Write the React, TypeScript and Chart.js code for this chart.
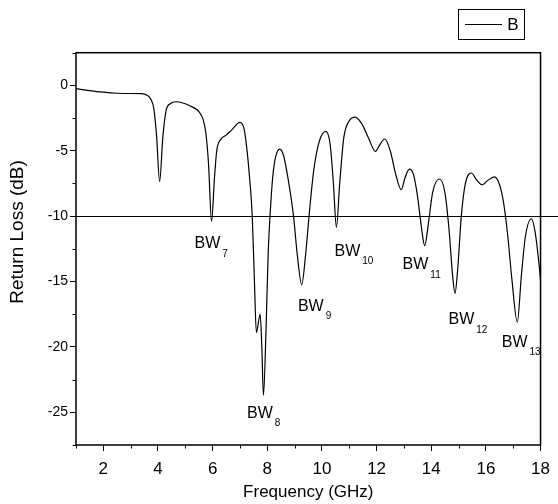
import React, { useEffect, useRef } from 'react';
import { Chart, registerables } from 'chart.js';
Chart.register(...registerables);

const freqGHz = [
  1.0, 1.5, 2.0, 2.5, 3.0, 3.4, 3.6, 3.75, 3.85, 3.95, 4.06, 4.18, 4.3, 4.45, 4.68,
  5.0, 5.3, 5.5, 5.65, 5.75, 5.85, 5.96, 6.07, 6.15, 6.29, 6.5, 6.7, 7.0, 7.15, 7.25,
  7.35, 7.45, 7.53, 7.6, 7.74, 7.8, 7.86, 7.95, 8.03, 8.1, 8.2, 8.3, 8.46, 8.6, 8.75,
  8.96, 9.1, 9.26, 9.4, 9.55, 9.7, 9.9, 10.14, 10.3, 10.42, 10.53, 10.65, 10.8, 11.0,
  11.22, 11.45, 11.7, 11.96, 12.1, 12.3, 12.5, 12.7, 12.9, 13.05, 13.2, 13.35, 13.5,
  13.65, 13.76, 13.9, 14.05, 14.3, 14.5, 14.65, 14.78, 14.87, 14.97, 15.1, 15.25, 15.47,
  15.65, 15.87, 16.05, 16.31, 16.5, 16.65, 16.8, 16.95, 17.15, 17.3, 17.45, 17.67, 17.8,
  17.9, 18.0,
];
const returnLossDb = [
  -0.25, -0.4, -0.52, -0.6, -0.62, -0.63, -0.75, -1.1, -1.8, -3.9, -7.35, -3.9, -1.9, -1.4, -1.25,
  -1.4, -1.7, -2.0, -2.6, -3.6, -6.0, -10.4, -7.0, -5.0, -4.15, -3.8, -3.4, -2.83, -3.3, -4.8,
  -7.0, -10.0, -15.0, -18.9, -17.5, -20.0, -23.7, -19.0, -13.0, -10.0, -7.0, -5.5, -4.87, -5.4, -7.0,
  -10.0, -13.0, -15.25, -13.0, -9.5, -6.5, -4.3, -3.52, -4.5, -7.5, -10.86, -7.5, -4.0, -2.7,
  -2.42, -2.9, -4.0, -5.05, -4.6, -4.1, -5.0, -6.8, -7.98, -7.0, -6.4, -6.8, -8.5,
  -11.0, -12.26, -10.5, -8.2, -7.16, -8.2, -11.0, -14.5, -15.9, -14.0, -10.0, -7.5, -6.7,
  -7.2, -7.6, -7.3, -7.0, -7.6, -9.0, -11.5, -14.8, -18.1, -14.5, -11.5, -10.2, -11.2,
  -12.8, -14.87,
];
const seriesName = 'B';
const xTitle = 'Frequency (GHz)';
const yTitle = 'Return Loss (dB)';
const xTickValues = [2, 4, 6, 8, 10, 12, 14, 16, 18];
const xMinorValues = [1, 3, 5, 7, 9, 11, 13, 15, 17];
const yTickValues = [-25, -20, -15, -10, -5, 0];
const yMinorValues = [-27.5, -22.5, -17.5, -12.5, -7.5, -2.5, 2.5];
const thresholdDb = -10;
const bwSubscripts = ['7', '8', '9', '10', '11', '12', '13'];
const bwLabelFreq = [5.34, 7.26, 9.12, 10.46, 12.95, 14.63, 16.58];
const bwLabelDb = [-12.13, -25.07, -16.9, -12.7, -13.72, -17.93, -19.66];

const FONT = '"Liberation Sans", Arial, sans-serif';

const overlayPlugin = {
  id: 'overlay',
  afterDraw(chart: any) {
    const { ctx, chartArea, scales } = chart;
    const { left, right, top, bottom } = chartArea;
    const xs = scales.x;
    const ys = scales.y;
    ctx.save();
    ctx.strokeStyle = '#000';
    ctx.fillStyle = '#000';
    // frame
    ctx.lineWidth = 1.5;
    ctx.strokeRect(left, top, right - left, bottom - top);
    // minor ticks
    ctx.lineWidth = 1;
    ctx.beginPath();
    xMinorValues.forEach((v) => {
      const px = Math.round(xs.getPixelForValue(v)) + 0.5;
      ctx.moveTo(px, bottom);
      ctx.lineTo(px, bottom + 3.5);
    });
    yMinorValues.forEach((v) => {
      const py = Math.round(ys.getPixelForValue(v)) + 0.5;
      ctx.moveTo(left, py);
      ctx.lineTo(left - 3.5, py);
    });
    ctx.stroke();
    // threshold line
    const ty = Math.round(ys.getPixelForValue(thresholdDb)) + 0.5;
    ctx.lineWidth = 1.2;
    ctx.beginPath();
    ctx.moveTo(left, ty);
    ctx.lineTo(chart.width, ty);
    ctx.stroke();
    // BW labels
    ctx.textBaseline = 'middle';
    ctx.textAlign = 'left';
    bwSubscripts.forEach((s, i) => {
      const px = xs.getPixelForValue(bwLabelFreq[i]);
      const py = ys.getPixelForValue(bwLabelDb[i]);
      ctx.font = `16px ${FONT}`;
      ctx.fillText('BW', px, py);
      const w = ctx.measureText('BW').width;
      ctx.font = `10px ${FONT}`;
      ctx.fillText(s, px + w + 2, py + 10);
    });
    // axis titles
    ctx.font = `17px ${FONT}`;
    ctx.textAlign = 'center';
    ctx.fillText(xTitle, (left + right) / 2, 492);
    ctx.save();
    ctx.translate(18, 232);
    ctx.rotate(-Math.PI / 2);
    ctx.font = `19px ${FONT}`;
    ctx.fillText(yTitle, 0, 0);
    ctx.restore();
    // legend
    ctx.lineWidth = 1;
    ctx.strokeRect(458.5, 9.5, 66, 30);
    ctx.beginPath();
    ctx.moveTo(465, 24.5);
    ctx.lineTo(502, 24.5);
    ctx.stroke();
    ctx.font = `17px ${FONT}`;
    ctx.textAlign = 'center';
    ctx.fillText(seriesName, 513, 25);
    ctx.restore();
  },
};

export default function App() {
  const ref = useRef<HTMLCanvasElement | null>(null);
  useEffect(() => {
    document.body.style.margin = '0';
    const canvas = ref.current;
    if (!canvas) return;
    const chart = new Chart(canvas, {
      type: 'line',
      data: {
        datasets: [
          {
            label: seriesName,
            data: freqGHz.map((f, i) => ({ x: f, y: returnLossDb[i] })),
            borderColor: '#000',
            borderWidth: 1.2,
            pointRadius: 0,
            cubicInterpolationMode: 'monotone',
            fill: false,
          },
        ],
      },
      options: {
        animation: false,
        responsive: false,
        events: [],
        layout: { padding: { top: 52.7, right: 9.3, left: 0, bottom: 0 } },
        plugins: { legend: { display: false }, tooltip: { enabled: false } },
        scales: {
          x: {
            type: 'linear',
            min: 1,
            max: 18,
            afterBuildTicks: (s: any) => {
              s.ticks = xTickValues.map((v) => ({ value: v }));
            },
            afterFit: (s: any) => {
              s.height = 59;
            },
            grid: { display: true, drawOnChartArea: false, drawTicks: true, tickLength: 6, color: '#000', lineWidth: 1 },
            border: { display: false },
            ticks: {
              color: '#000',
              font: { family: FONT, size: 17 },
              padding: 8,
              maxRotation: 0,
              autoSkip: false,
            },
          },
          y: {
            type: 'linear',
            min: -27.5,
            max: 2.5,
            afterBuildTicks: (s: any) => {
              s.ticks = yTickValues.map((v) => ({ value: v }));
            },
            afterFit: (s: any) => {
              s.width = 76;
            },
            grid: { display: true, drawOnChartArea: false, drawTicks: true, tickLength: 6, color: '#000', lineWidth: 1 },
            border: { display: false },
            ticks: {
              color: '#000',
              font: { family: FONT, size: 14 },
              padding: 2,
              autoSkip: false,
            },
          },
        },
      },
      plugins: [overlayPlugin],
    });
    return () => chart.destroy();
  }, []);
  return (
    <div style={{ width: 558, height: 504, background: '#fff' }}>
      <canvas ref={ref} width={558} height={504} style={{ display: 'block' }} />
    </div>
  );
}
